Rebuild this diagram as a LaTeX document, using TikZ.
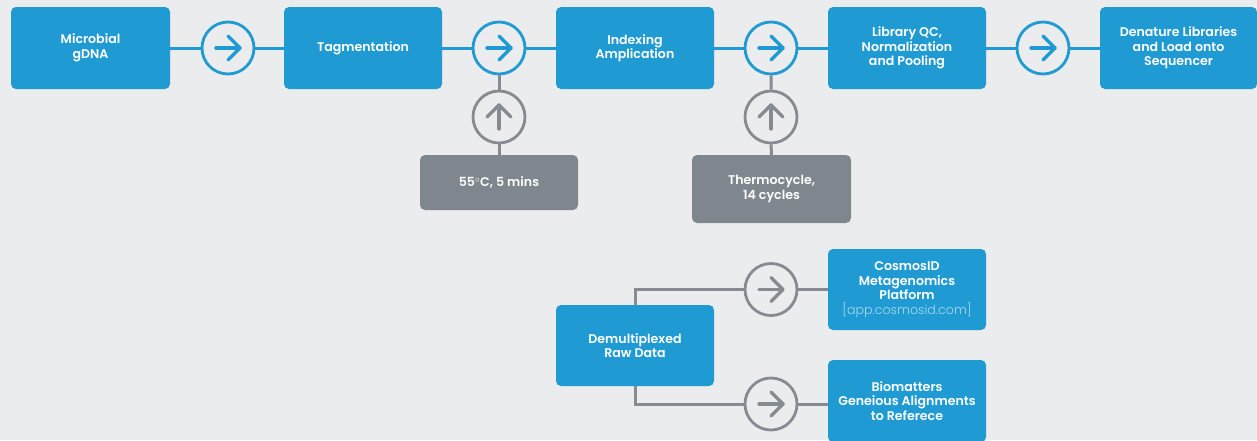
\documentclass[tikz,border=0pt]{standalone}
\usepackage{fontspec}
\setmainfont{Poppins}[BoldFont={Poppins SemiBold}]
\newfontfamily\urlfont{Poppins Light}
\definecolor{bg}{HTML}{EBECEE}
\definecolor{blu}{HTML}{1F9AD3}
\definecolor{gry}{HTML}{7F868D}
\definecolor{gryl}{HTML}{858B91}
\definecolor{url}{HTML}{A9D9F2}
\begin{document}
\begin{tikzpicture}[x=1pt,y=-1pt,
  box/.style={fill=blu,rounded corners=5pt,inner sep=0pt,align=center,text=white,
    font=\fontsize{12.6}{14.5}\selectfont\bfseries,minimum width=158pt,minimum height=82pt},
  gbox/.style={box,fill=gry},
  bcirc/.style={circle,draw=blu,line width=2.8pt,fill=bg,minimum size=52pt,inner sep=0pt},
  gcirc/.style={bcirc,draw=gryl},
  bline/.style={draw=blu,line width=3pt},
  gline/.style={draw=gryl,line width=3pt},
  arr/.style={line width=3.4pt,line cap=round,line join=round}
]
\fill[bg] (0,0) rectangle (1257,440);
\useasboundingbox (0,0) rectangle (1257,440);
% top boxes
\node[box,minimum width=159pt] (b1) at (90.5,48) {Microbial\\gDNA};
\node[box] (b2) at (363,48) {Tagmentation};
\node[box] (b3) at (635,48) {Indexing\\Amplication};
\node[box] (b4) at (907,48) {Library QC,\\Normalization\\and Pooling};
\node[box,minimum width=157pt] (b5) at (1178.5,48) {Denature Libraries\\and Load onto\\Sequencer};
% grey boxes
\node[gbox,minimum height=55pt] (g1) at (499,182.5) {55\textsuperscript{$\circ$}C, 5 mins};
\node[gbox,minimum width=159pt,minimum height=68pt] (g2) at (771.5,189) {Thermocycle,\\14 cycles};
% bottom boxes
\node[box,minimum height=81pt] (d) at (635,345.5) {Demultiplexed\\Raw Data};
\node[box,minimum height=81pt] (cz) at (907,289.5) {CosmosID\\Metagenomics\\Platform\\{\urlfont\mdseries\color{url}[app.cosmosid.com]}};
\node[box,minimum height=82pt] (bm) at (907,401) {Biomatters\\Geneious Alignments\\to Referece};
% circles
\node[bcirc] (c1) at (228,48) {};
\node[bcirc] (c2) at (499,48) {};
\node[bcirc] (c3) at (771,48) {};
\node[bcirc] (c4) at (1043,48) {};
\node[gcirc] (u1) at (499,117) {};
\node[gcirc] (u2) at (771,117) {};
\node[gcirc] (c5) at (771,289.5) {};
\node[gcirc] (c6) at (771,404) {};
% connectors
\draw[bline] (b1.east) -- (c1.west) (c1.east) -- (b2.west);
\draw[bline] (b2.east) -- (c2.west) (c2.east) -- (b3.west);
\draw[bline] (b3.east) -- (c3.west) (c3.east) -- (b4.west);
\draw[bline] (b4.east) -- (c4.west) (c4.east) -- (b5.west);
\draw[gline] (c2.south) -- (u1.north) (u1.south) -- (g1.north);
\draw[gline] (c3.south) -- (u2.north) (u2.south) -- (g2.north);
\draw[gline] (d.north) |- (c5.west) (c5.east) -- (c5.east -| cz.west);
\draw[gline] (d.south) |- (c6.west) (c6.east) -- (c6.east -| bm.west);
% arrows
\foreach \c in {c1,c2,c3,c4}{
  \draw[arr,blu] ([xshift=-12pt]\c.center) -- ([xshift=12pt]\c.center);
  \draw[arr,blu] ([shift={(0pt,-12pt)}]\c.center) -- ([xshift=12pt]\c.center) -- ([shift={(0pt,12pt)}]\c.center);
}
\foreach \c in {c5,c6}{
  \draw[arr,gryl] ([xshift=-12pt]\c.center) -- ([xshift=12pt]\c.center);
  \draw[arr,gryl] ([shift={(0pt,-12pt)}]\c.center) -- ([xshift=12pt]\c.center) -- ([shift={(0pt,12pt)}]\c.center);
}
\foreach \c in {u1,u2}{
  \draw[arr,gryl] ([yshift=-12pt]\c.center) -- ([yshift=12pt]\c.center);
  \draw[arr,gryl] ([shift={(-12pt,0pt)}]\c.center) -- ([yshift=12pt]\c.center) -- ([shift={(12pt,0pt)}]\c.center);
}
\end{tikzpicture}
\end{document}
